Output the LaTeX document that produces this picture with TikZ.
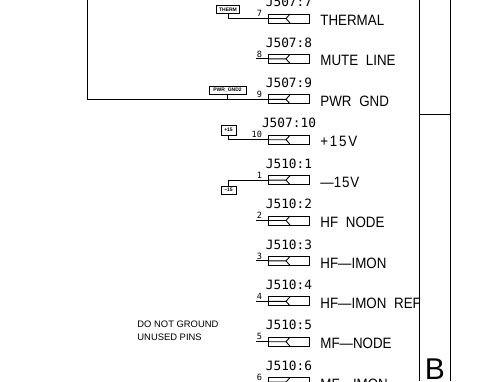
\documentclass[tikz,border=0pt]{standalone}
\usepackage{fontspec}
\setmainfont{Liberation Sans}
\newfontfamily\cadmono{DejaVu Sans Mono}
\tikzset{
  connbox/.style={draw,rectangle,minimum width=41pt,minimum height=9pt,inner sep=0pt,outer sep=0pt},
  reflabel/.style={inner sep=0pt,font=\cadmono\fontsize{12.8}{13}\selectfont},
  netlabel/.style={anchor=west,inner sep=0pt,xscale=0.89,transform shape,font=\fontsize{15}{15}\selectfont},
  pinlabel/.style={anchor=south east,inner sep=0pt,font=\cadmono\fontsize{8.6}{9}\selectfont},
  tagbox/.style={draw,rectangle,inner sep=0pt,outer sep=0pt,font=\bfseries\fontsize{5}{5}\selectfont},
  noteline/.style={anchor=west,inner sep=0pt,font=\fontsize{9.4}{10}\selectfont},
}
\newcommand{\connrow}[5]{%
  \node[connbox] (c#1) at (288.5,#2) {};
  \draw (c#1.west) -- ++(18,0) coordinate (tip#1) -- ++(4,-4.5);
  \draw (tip#1) -- ++(4,4.5);
  \node[reflabel] (r#1) at (289,#2-16.5) {#3};
  \node[netlabel] (n#1) at (320,#2+2) {\spaceskip=8.7pt\relax #5};
  \node[pinlabel] (p#1) at (262.5,#2-1.2) {#4};
}
\begin{document}
\begin{tikzpicture}[x=1pt,y=-1pt,line width=0.9pt]
\clip (0,0) rectangle (491,381);
\connrow{a}{18.5}{J507:7}{7}{THERMAL}
\connrow{b}{58.9}{J507:8}{8}{MUTE LINE}
\connrow{c}{99.3}{J507:9}{9}{PWR GND}
\connrow{d}{139.7}{J507:10}{10}{+\kern2pt 1\kern2pt 5\kern2pt V}
\connrow{e}{180.1}{J510:1}{1}{—1\kern1pt 5\kern1pt V}
\connrow{f}{220.5}{J510:2}{2}{HF NODE}
\connrow{g}{260.9}{J510:3}{3}{HF—IMON}
\connrow{h}{301.3}{J510:4}{4}{HF—IMON REF}
\connrow{i}{341.7}{J510:5}{5}{MF—NODE}
\connrow{j}{382.1}{J510:6}{6}{MF—IMON}
% tags
\node[tagbox,minimum width=23pt,minimum height=7.5pt] (tth) at (228,9.5) {THERM};
\node[tagbox,minimum width=37pt,minimum height=8pt] (tpw) at (227.5,90) {PWR\_GND2};
\node[tagbox,minimum width=15pt,minimum height=10pt] (tp) at (228.5,130) {+15};
\node[tagbox,minimum width=15pt,minimum height=8pt] (tm) at (228.5,190) {–15};
% wires
\draw (tth.south) |- (ca.west);
\draw (tp.south) |- (cd.west);
\draw (tm.north) |- (ce.west);
\coordinate (top) at (87,0);
\draw (top) |- (cc.west);
\draw (tpw.south) -- (tpw.south |- cc.west);
\coordinate (stub) at (256,0);
\foreach \n in {b,f,g,h,i,j}{
  \draw (stub |- c\n.west) -- (c\n.west);
}
% title column
\coordinate (ltop) at (419.7,0);
\coordinate (lbot) at (419.7,381);
\coordinate (rtop) at (450,0);
\coordinate (rbot) at (450,381);
\coordinate (lmid) at (419.7,114.5);
\coordinate (rmid) at (450,114.5);
\draw (ltop) -- (lbot);
\draw (rtop) -- (rbot);
\draw (lmid) -- (rmid);
\node[inner sep=0pt,anchor=center,font=\fontsize{30}{30}\selectfont] (zone) at (435,369) {B};
% note
\node[noteline] (nt1) at (137,324.5) {DO NOT GROUND};
\node[noteline] (nt2) at (137,337) {UNUSED PINS};
\end{tikzpicture}
\end{document}
